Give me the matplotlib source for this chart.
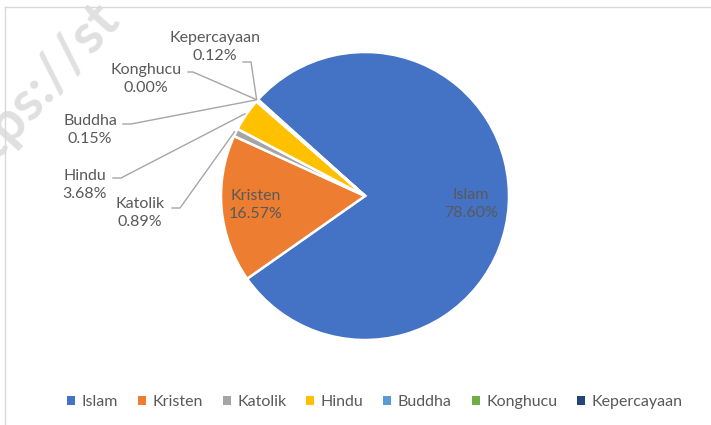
import matplotlib
matplotlib.use("Agg")
import matplotlib.pyplot as plt
import numpy as np
from matplotlib.patches import Rectangle
from matplotlib.lines import Line2D

categories = ["Islam", "Kristen", "Katolik", "Hindu", "Buddha", "Konghucu", "Kepercayaan"]
values = [78.60, 16.57, 0.89, 3.68, 0.15, 0.00, 0.12]
labels_pct = ["78.60%", "16.57%", "0.89%", "3.68%", "0.15%", "0.00%", "0.12%"]
colors = ["#4472C4", "#ED7D31", "#A5A5A5", "#FFC000", "#5B9BD5", "#70AD47", "#264478"]

W, H = 711, 425
FONT = "Lato"
TXT = "#595959"
FS = 11.5

fig = plt.figure(figsize=(W / 100, H / 100), dpi=100)
ax = fig.add_axes([0, 0, 1, 1])
ax.set_xlim(0, W)
ax.set_ylim(0, H)
ax.set_aspect("equal")
ax.axis("off")

# watermark
ax.text(-4, H - 162, "tps://st", rotation=48, rotation_mode="anchor", fontsize=40,
        color="#e0e0e0", family=FONT, fontweight="bold", ha="left", va="baseline",
        zorder=0)

# chart border (partially cropped)
ax.add_line(Line2D([5, 5], [0, H - 7], color="#d9d9d9", lw=1))
ax.add_line(Line2D([5, W], [H - 7, H - 7], color="#d9d9d9", lw=1))

cx, cy, R = 365, H - 196, 144
wedges, _ = ax.pie(values, colors=colors, startangle=138, counterclock=False,
                   center=(cx, cy), radius=R, frame=True,
                   wedgeprops=dict(edgecolor="white", linewidth=1.8))
ax.set_xlim(0, W)
ax.set_ylim(0, H)
ax.axis("off")

# inside labels
inside = {0: (471, H - 204), 1: (256, H - 205)}
for i, (x, y) in inside.items():
    ax.text(x, y, f"{categories[i]}\n{labels_pct[i]}", ha="center", va="center",
            fontsize=FS, color=TXT, family=FONT, linespacing=1.35)

# outside labels: text center, leader start
outside = {
    6: ((215, H - 47), (243, H - 62), 251),
    5: ((146, H - 79), (188, H - 72), 193),
    4: ((90, H - 130), (123, H - 124), 131),
    3: ((85, H - 185), (113, H - 178), 121),
    2: ((140, H - 213), (172, H - 208), 180),
}
for i, ((tx, ty), (lx, ly), lx2) in outside.items():
    ax.text(tx, ty, f"{categories[i]}\n{labels_pct[i]}", ha="center", va="center",
            fontsize=FS, color=TXT, family=FONT, linespacing=1.35)
    w = wedges[i]
    th = np.deg2rad((w.theta1 + w.theta2) / 2)
    ex, ey = cx + R * 1.01 * np.cos(th), cy + R * 1.01 * np.sin(th)
    ax.add_line(Line2D([lx, lx2, ex], [ly, ly, ey], color="#a6a6a6", lw=1))

handles = [Rectangle((0, 0), 1, 1, facecolor=c, edgecolor="none") for c in colors]
leg = ax.legend(handles, categories, loc="center", bbox_to_anchor=(375 / W, 23 / H),
                ncol=7, frameon=False, handlelength=0.5, handleheight=0.5,
                handletextpad=0.4, columnspacing=1.25,
                prop=dict(family=FONT, size=FS))
for t in leg.get_texts():
    t.set_color(TXT)

fig.savefig("out.png", dpi=100)
